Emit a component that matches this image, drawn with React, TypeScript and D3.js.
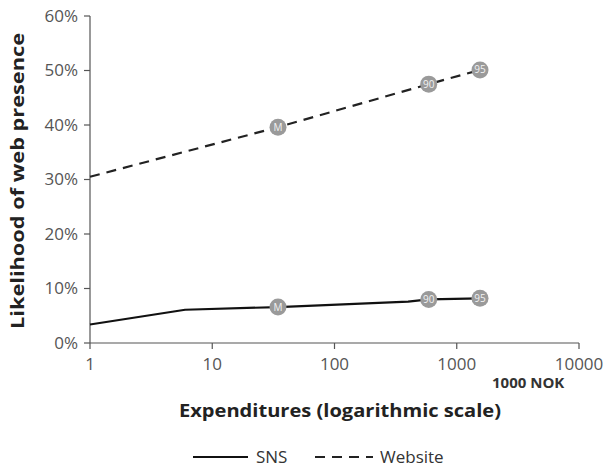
import React from "react";
import * as d3 from "d3";

const xTicks = [1, 10, 100, 1000, 10000];
const yTicks = [0, 0.1, 0.2, 0.3, 0.4, 0.5, 0.6];

// website likelihood by expenditure (1000 NOK)
const websiteX = [1, 34.5, 590, 1550];
const websiteY = [0.305, 0.396, 0.475, 0.501];

// SNS likelihood
const snsX = [1, 6, 34.5, 400, 590, 1550];
const snsY = [0.034, 0.061, 0.066, 0.076, 0.08, 0.082];

// labelled markers: M = mean, 90/95 = percentiles
const markerX = [34.5, 590, 1550];
const markerLabels = ["M", "90", "95"];
const websiteMarkerY = [0.396, 0.475, 0.501];
const snsMarkerY = [0.066, 0.08, 0.082];

const W = 606;
const H = 468;
const margin = { left: 90, right: 27, top: 16, bottom: 125 };
const font = "'Open Sans', sans-serif";

export default function App() {
  const x = d3.scaleLog().domain([1, 10000]).range([margin.left, W - margin.right]);
  const y = d3.scaleLinear().domain([0, 0.6]).range([H - margin.bottom, margin.top]);

  const line = d3
    .line<[number, number]>()
    .x((d) => x(d[0]))
    .y((d) => y(d[1]));

  const web = websiteX.map((v, i) => [v, websiteY[i]] as [number, number]);
  const sns = snsX.map((v, i) => [v, snsY[i]] as [number, number]);
  const y0 = y(0);
  const axisColor = "#555";
  const tickColor = "#555";

  const markers = (vals: number[], key: string) =>
    markerX.map((mx, i) => (
      <g key={key + i} transform={`translate(${x(mx)},${y(vals[i])})`}>
        <circle r={8.5} fill="#9a9a9a" />
        <text textAnchor="middle" dy="0.35em" fontSize={10} fill="#f2f2f2" fontFamily={font}>
          {markerLabels[i]}
        </text>
      </g>
    ));

  return (
    <svg width={W} height={H} style={{ position: "absolute", left: 0, top: 0, background: "#fff" }}>
      {/* y axis */}
      <line x1={x(1)} x2={x(1)} y1={y(0.6)} y2={y0} stroke={axisColor} strokeWidth={1.2} />
      {yTicks.map((t) => (
        <g key={"y" + t}>
          <line x1={x(1) - 6} x2={x(1)} y1={y(t)} y2={y(t)} stroke={axisColor} strokeWidth={1.2} />
          <text x={x(1) - 12} y={y(t)} dy="0.35em" textAnchor="end" fontSize={17} fill={tickColor} fontFamily={font}>
            {d3.format(".0%")(t)}
          </text>
        </g>
      ))}
      {/* x axis */}
      <line x1={x(1)} x2={x(10000)} y1={y0} y2={y0} stroke={axisColor} strokeWidth={1.2} />
      {xTicks.map((t) => (
        <g key={"x" + t}>
          <line x1={x(t)} x2={x(t)} y1={y0} y2={y0 + 6} stroke={axisColor} strokeWidth={1.2} />
          <text x={x(t)} y={y0 + 27} textAnchor="middle" fontSize={17} fill={tickColor} fontFamily={font}>
            {String(t)}
          </text>
        </g>
      ))}
      <text x={492} y={388} fontSize={15} fontWeight="bold" fill="#333" fontFamily={font}>
        1000 NOK
      </text>

      {/* series */}
      <path d={line(web) ?? ""} fill="none" stroke="#222" strokeWidth={2.2} strokeDasharray="10,7" />
      <path d={line(sns) ?? ""} fill="none" stroke="#111" strokeWidth={2.2} strokeLinejoin="round" />
      {markers(websiteMarkerY, "w")}
      {markers(snsMarkerY, "s")}

      {/* titles */}
      <text
        transform={`translate(24,181) rotate(-90)`}
        textAnchor="middle"
        fontSize={18}
        fontWeight="bold"
        fill="#222"
        fontFamily={font}
        textLength={296}
        lengthAdjust="spacingAndGlyphs"
      >
        Likelihood of web presence
      </text>
      <text
        x={340}
        y={417}
        textAnchor="middle"
        fontSize={18}
        fontWeight="bold"
        fill="#222"
        fontFamily={font}
        textLength={322}
        lengthAdjust="spacingAndGlyphs"
      >
        Expenditures (logarithmic scale)
      </text>

      {/* legend */}
      <line x1={193} x2={248} y1={457} y2={457} stroke="#111" strokeWidth={2.2} />
      <text x={256} y={463} fontSize={17} fill="#333" fontFamily={font}>SNS</text>
      <line x1={315} x2={373} y1={457} y2={457} stroke="#222" strokeWidth={2.2} strokeDasharray="10,7" />
      <text x={380} y={463} fontSize={17} fill="#333" fontFamily={font}>Website</text>
    </svg>
  );
}
